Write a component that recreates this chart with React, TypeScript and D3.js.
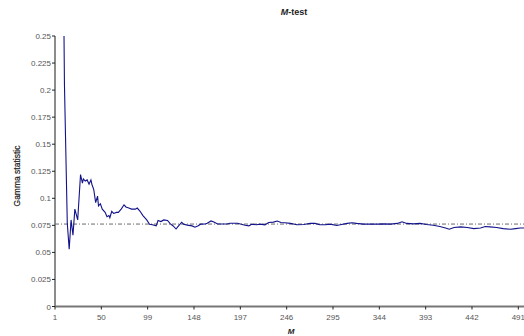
import React from "react";
import * as d3 from "d3";

const mValues = [10, 11, 14, 16, 18, 20, 22, 25, 28, 30, 31, 33, 35, 37, 39, 40, 42, 44, 46, 47, 49, 51, 54, 56, 58, 59, 61, 63, 66, 68, 71, 74, 76, 79, 82, 86, 88, 91, 94, 98, 101, 104, 108, 110, 113, 116, 120, 123, 126, 129, 131, 135, 137, 141, 146, 149, 152, 155, 160, 162, 166, 169, 173, 177, 183, 186, 190, 194, 197, 202, 206, 209, 214, 218, 223, 227, 232, 236, 240, 244, 250, 257, 264, 271, 276, 281, 287, 292, 299, 304, 310, 315, 320, 327, 334, 342, 349, 356, 363, 368, 373, 380, 387, 394, 401, 408, 414, 418, 423, 430, 437, 444, 451, 456, 461, 468, 475, 483, 488, 493, 497];
const gammaValues = [0.30, 0.205, 0.077, 0.053, 0.080, 0.066, 0.090, 0.080, 0.122, 0.114, 0.118, 0.116, 0.117, 0.113, 0.117, 0.113, 0.108, 0.096, 0.102, 0.093, 0.095, 0.090, 0.087, 0.083, 0.084, 0.082, 0.088, 0.086, 0.087, 0.087, 0.090, 0.094, 0.092, 0.091, 0.090, 0.090, 0.091, 0.088, 0.084, 0.080, 0.076, 0.0755, 0.0745, 0.0795, 0.0785, 0.080, 0.0795, 0.0763, 0.0744, 0.0716, 0.0738, 0.0779, 0.0761, 0.0752, 0.0745, 0.0733, 0.0745, 0.0761, 0.0763, 0.0769, 0.0791, 0.078, 0.0763, 0.0763, 0.0763, 0.0769, 0.0769, 0.0769, 0.0763, 0.0751, 0.0745, 0.0761, 0.0755, 0.0761, 0.0755, 0.0777, 0.078, 0.079, 0.0777, 0.0774, 0.0768, 0.0755, 0.0758, 0.0768, 0.0768, 0.0755, 0.0755, 0.0761, 0.0749, 0.0758, 0.0768, 0.0774, 0.0768, 0.0761, 0.0761, 0.0761, 0.0764, 0.0761, 0.0768, 0.0783, 0.0768, 0.0764, 0.0768, 0.0758, 0.0751, 0.0739, 0.0726, 0.0714, 0.073, 0.0736, 0.073, 0.072, 0.0726, 0.0739, 0.0736, 0.073, 0.072, 0.0714, 0.072, 0.0726, 0.0726];
const referenceGamma = 0.0762;
const xTickValues = [1, 50, 99, 148, 197, 246, 295, 344, 393, 442, 491];
const yTickValues = [0, 0.025, 0.05, 0.075, 0.1, 0.125, 0.15, 0.175, 0.2, 0.225, 0.25];
const yTickLabels = ["0", "0.025", "0.05", "0.075", "0.1", "0.125", "0.15", "0.175", "0.2", "0.225", "0.25"];

const W = 524;
const H = 336;
const left = 55;
const top = 36;
const bottom = 306.5;

export default function App() {
  const x = d3.scaleLinear().domain([1, 497]).range([left, 524]);
  const y = d3.scaleLinear().domain([0, 0.25]).range([bottom, top]);
  const data = mValues.map((m, i) => [m, gammaValues[i]] as [number, number]);
  const line = d3
    .line<[number, number]>()
    .x((d) => x(d[0]))
    .y((d) => y(d[1]))
    .curve(d3.curveLinear);
  const font = "'Liberation Sans', Arial, sans-serif";
  return (
    <svg
      width={W}
      height={H}
      style={{ position: "absolute", left: 0, top: 0, background: "#fff" }}
      fontFamily={font}
    >
      <defs>
        <clipPath id="plotclip">
          <rect x={left} y={top} width={W - left} height={bottom - top} />
        </clipPath>
      </defs>
      <text x={294} y={15} textAnchor="middle" fontSize={9} fontWeight="bold" fill="#222">
        <tspan fontStyle="italic">M</tspan>-test
      </text>
      <text
        transform={`translate(20,${176}) rotate(-90)`}
        textAnchor="middle"
        fontSize={8.5}
        fill="#222"
        stroke="#222"
        strokeWidth={0.2}
      >
        Gamma statistic
      </text>
      <text x={291} y={334} textAnchor="middle" fontSize={8} fontWeight="bold" fontStyle="italic" fill="#222">
        M
      </text>
      <line
        x1={left}
        x2={W}
        y1={y(referenceGamma)}
        y2={y(referenceGamma)}
        stroke="#444"
        strokeWidth={0.8}
        strokeDasharray="4 2 1 2"
      />
      <path
        d={line(data) || ""}
        fill="none"
        stroke="#12128a"
        strokeWidth={1.1}
        clipPath="url(#plotclip)"
      />
      <line x1={left} x2={left} y1={top} y2={bottom} stroke="#666" strokeWidth={1.5} />
      {yTickValues.map((v, i) => (
        <g key={"y" + i}>
          <line x1={left - 3} x2={left} y1={y(v)} y2={y(v)} stroke="#222" strokeWidth={1} />
          <text x={left - 4} y={y(v) + 3} textAnchor="end" fontSize={8} fill="#555">
            {yTickLabels[i]}
          </text>
        </g>
      ))}
      <line x1={left} x2={W} y1={bottom} y2={bottom} stroke="#777" strokeWidth={2} />
      {xTickValues.map((v, i) => (
        <g key={"x" + i}>
          <line x1={x(v)} x2={x(v)} y1={bottom} y2={bottom + 3} stroke="#222" strokeWidth={1} />
          <text x={x(v)} y={bottom + 13} textAnchor="middle" fontSize={8} fill="#555">
            {v}
          </text>
        </g>
      ))}
    </svg>
  );
}
